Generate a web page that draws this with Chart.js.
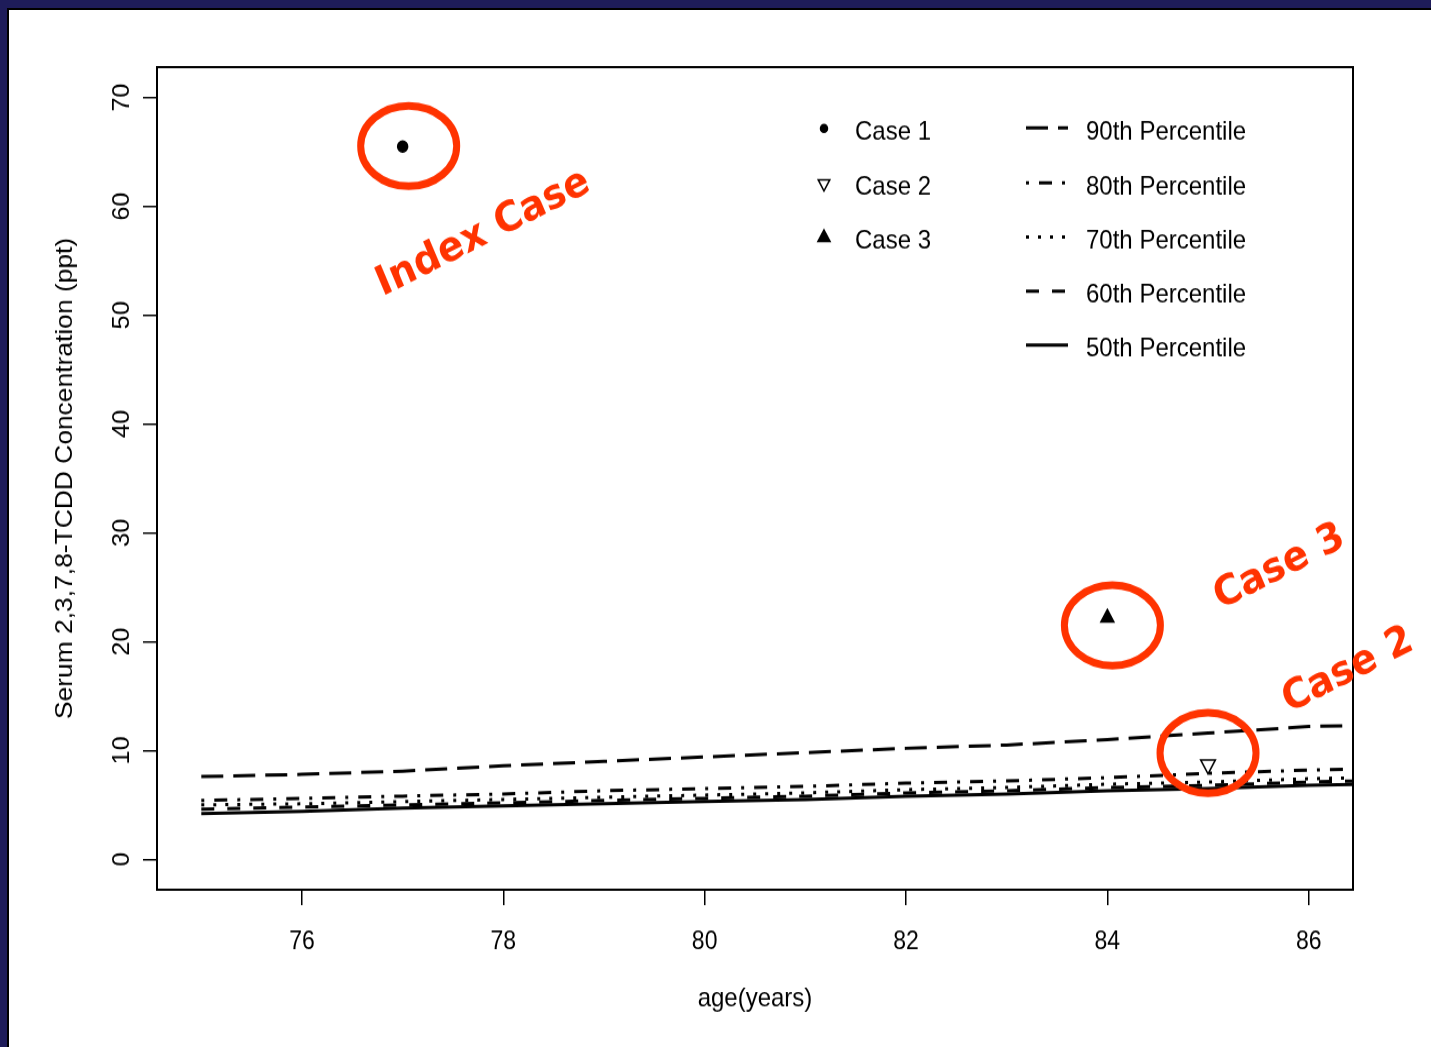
<!DOCTYPE html>
<html>
<head>
<meta charset="utf-8">
<script src="https://cdn.jsdelivr.net/npm/chart.js@4.4.1/dist/chart.umd.min.js"></script>
<style>
  html, body { margin: 0; padding: 0; background: #1e1c5a; overflow: hidden; }
  #page { position: absolute; left: 7px; top: 8px; width: 1424px; height: 1039px;
          background: #fff; border-left: 2px solid #000; border-top: 2px solid #000; }
  #c { position: absolute; left: 0; top: 0; }
</style>
</head>
<body>
<div id="page"></div>
<!-- the slide image is a little taller than wide, so the canvas is stretched -->
<canvas id="c" width="1431" height="952" style="width:1431px;height:1047px"></canvas>
<script>
// ages at which the percentile curves are drawn
const ages = [75, 76, 77, 78, 79, 80, 81, 82, 83, 84, 85, 86, 86.5];
const p90 = [7.6, 7.8, 8.1, 8.6, 9.0, 9.4, 9.8, 10.2, 10.5, 11.0, 11.6, 12.2, 12.3];
const p80 = [5.4, 5.6, 5.8, 6.0, 6.3, 6.5, 6.7, 7.0, 7.2, 7.5, 7.9, 8.2, 8.3];
const p70 = [5.0, 5.1, 5.3, 5.5, 5.7, 5.9, 6.1, 6.4, 6.6, 6.9, 7.1, 7.4, 7.5];
const p60 = [4.6, 4.8, 5.0, 5.2, 5.4, 5.6, 5.8, 6.1, 6.3, 6.6, 6.8, 7.1, 7.2];
const p50 = [4.2, 4.4, 4.7, 4.9, 5.1, 5.3, 5.5, 5.8, 6.0, 6.3, 6.5, 6.8, 6.9];
const pctLabels = ['90th Percentile', '80th Percentile', '70th Percentile', '60th Percentile', '50th Percentile'];
const pctValues = [p90, p80, p70, p60, p50];

// the three cases
const caseLabels = ['Case 1', 'Case 2', 'Case 3'];
const caseAges = [77, 85, 84];
const caseConc = [65.5, 8.7, 22.2];

const xTicks = [76, 78, 80, 82, 84, 86];
const yTicks = [0, 10, 20, 30, 40, 50, 60, 70];

// red annotations (data coords)
const noteText = ['Index Case', 'Case 3', 'Case 2'];
const noteX = [77.8, 85.71, 86.39];
const noteY = [57.5, 26.8, 17.3];
const ringX = [77.06, 84.05, 85.0];
const ringY = [65.55, 21.5, 9.77];

const RED = '#ff3300';
const dashes = [[22, 10], [3, 10, 13, 10], [3, 9], [13, 13], []];

const datasets = [];
pctValues.forEach((vals, i) => {
  datasets.push({
    label: pctLabels[i],
    data: ages.map((a, j) => ({x: a, y: vals[j]})),
    showLine: true,
    borderColor: '#000',
    borderWidth: 3,
    borderDash: dashes[i],
    borderCapStyle: 'butt',
    pointRadius: 0,
    fill: false,
    tension: 0
  });
});
const caseStyle = [
  {pointStyle: 'circle', rot: 0, r: 5, bg: '#000', leg: 3.5},
  {pointStyle: 'triangle', rot: 180, r: 8.5, bg: '#fff', leg: 6.7},
  {pointStyle: 'triangle', rot: 0, r: 7.5, bg: '#000', leg: 7}
];
caseLabels.forEach((c, i) => {
  datasets.push({
    label: c,
    data: [{x: caseAges[i], y: caseConc[i]}],
    showLine: false,
    pointStyle: caseStyle[i].pointStyle,
    pointRotation: caseStyle[i].rot,
    pointRadius: caseStyle[i].r,
    backgroundColor: caseStyle[i].bg,
    borderColor: '#000',
    borderWidth: 1.5
  });
});

const FONT = '"Liberation Sans", Arial, sans-serif';

const overlay = {
  id: 'overlay',
  afterDraw(chart) {
    const {ctx, chartArea: a, scales: {x, y}} = chart;
    ctx.save();
    ctx.strokeStyle = '#000';
    ctx.lineWidth = 2;
    ctx.setLineDash([]);
    ctx.strokeRect(a.left, a.top, a.right - a.left, a.bottom - a.top);

    // y tick labels turned like R does
    ctx.fillStyle = '#000';
    ctx.font = '23px ' + FONT;
    ctx.textAlign = 'center';
    ctx.textBaseline = 'alphabetic';
    yTicks.forEach(v => {
      ctx.save();
      ctx.translate(129, y.getPixelForValue(v));
      ctx.rotate(-Math.PI / 2);
      ctx.fillText(String(v), 0, 0);
      ctx.restore();
    });

    // legend
    const rowY = [119.7, 169.8, 219.1, 268.2, 317.3];
    ctx.font = '24px ' + FONT;
    ctx.textAlign = 'left';
    caseLabels.forEach((c, i) => {
      const d = chart.data.datasets[pctLabels.length + i];
      ctx.fillStyle = d.backgroundColor;
      ctx.strokeStyle = '#000';
      ctx.lineWidth = 1.5;
      Chart.helpers.drawPoint(ctx, {pointStyle: d.pointStyle, rotation: d.pointRotation,
        radius: caseStyle[i].leg, borderWidth: 1.5}, 824, rowY[i] - 3);
      ctx.fillStyle = '#000';
      ctx.fillText(c, 855, rowY[i] + 6.8);
    });
    pctLabels.forEach((p, i) => {
      const d = chart.data.datasets[i];
      ctx.strokeStyle = '#000';
      ctx.lineWidth = 3;
      ctx.lineCap = 'butt';
      ctx.setLineDash(d.borderDash);
      ctx.beginPath();
      ctx.moveTo(1026, rowY[i] - 3.5);
      ctx.lineTo(1068, rowY[i] - 3.5);
      ctx.stroke();
      ctx.setLineDash([]);
      ctx.fillText(p, 1086, rowY[i] + 6.8);
    });

    // red rings and labels
    ctx.strokeStyle = RED;
    ctx.lineWidth = 7;
    ringX.forEach((rx, i) => {
      ctx.beginPath();
      ctx.ellipse(x.getPixelForValue(rx), y.getPixelForValue(ringY[i]), 48, 36.6, 0, 0, Math.PI * 2);
      ctx.stroke();
    });
    ctx.fillStyle = RED;
    ctx.font = 'bold 37.5px "DejaVu Sans", Verdana, sans-serif';
    ctx.textAlign = 'center';
    ctx.textBaseline = 'middle';
    noteText.forEach((t, i) => {
      ctx.save();
      ctx.translate(x.getPixelForValue(noteX[i]), y.getPixelForValue(noteY[i]));
      ctx.rotate(-24.8 * Math.PI / 180);
      ctx.fillText(t, 0, 0);
      ctx.restore();
    });
    ctx.restore();
  }
};

new Chart(document.getElementById('c'), {
  type: 'scatter',
  data: {datasets: datasets},
  options: {
    responsive: false,
    devicePixelRatio: 1,
    animation: false,
    layout: {padding: {top: 61, right: 78, left: 0, bottom: 0}},
    plugins: {legend: {display: false}, tooltip: {enabled: false}},
    scales: {
      x: {
        type: 'linear', min: 74.56, max: 86.44, bounds: 'data',
        afterBuildTicks: s => { s.ticks = xTicks.map(v => ({value: v})); },
        afterFit: s => { s.height = 143; },
        grid: {drawOnChartArea: false, drawTicks: true, tickLength: 14, color: '#000', lineWidth: 1.5},
        border: {display: false},
        ticks: {color: '#000', font: {family: FONT, size: 23}, padding: 19.5, maxRotation: 0, autoSkip: false},
        title: {display: true, text: 'age(years)', color: '#000', font: {family: FONT, size: 24},
                padding: {top: 0, bottom: 29}}
      },
      y: {
        type: 'linear', min: -2.8, max: 72.8, bounds: 'data',
        afterBuildTicks: s => { s.ticks = yTicks.map(v => ({value: v})); },
        afterFit: s => { s.width = 157; },
        grid: {drawOnChartArea: false, drawTicks: true, tickLength: 14, color: '#000', lineWidth: 1.5},
        border: {display: false},
        ticks: {display: false},
        title: {display: true, text: 'Serum 2,3,7,8-TCDD Concentration (ppt)', color: '#000',
                font: {family: FONT, size: 24}, padding: {top: 51, bottom: 0}}
      }
    }
  },
  plugins: [overlay]
});
</script>
</body>
</html>
